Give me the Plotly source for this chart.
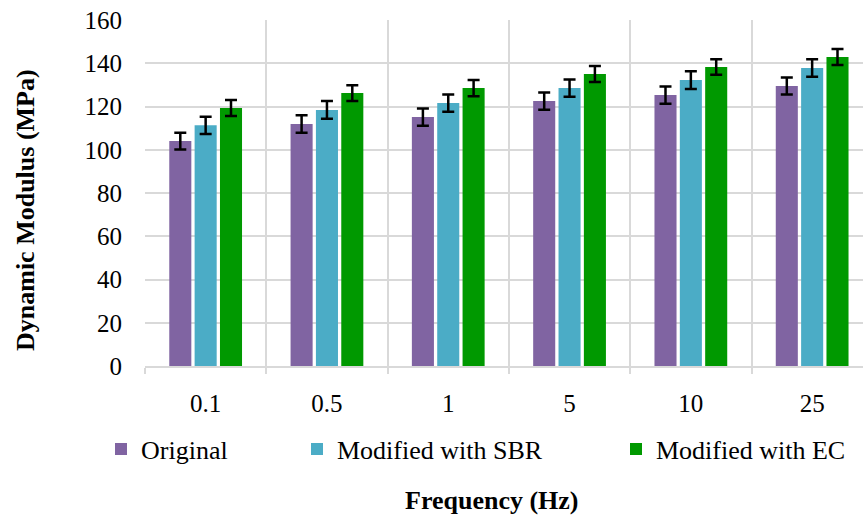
import plotly.graph_objects as go

categories = ["0.1", "0.5", "1", "5", "10", "25"]
original = [104.0, 111.9, 115.1, 122.5, 125.3, 129.5]
sbr = [111.3, 118.4, 121.6, 128.5, 132.2, 137.8]
ec = [119.3, 126.2, 128.5, 135.0, 138.3, 142.9]
err_original = [3.9, 4.0, 4.0, 4.0, 4.0, 3.9]
err_sbr = [4.0, 4.1, 4.0, 4.0, 4.1, 4.0]
err_ec = [3.7, 3.6, 3.8, 3.7, 3.6, 3.7]
y_ticks = [0, 20, 40, 60, 80, 100, 120, 140, 160]

FONT = "Liberation Serif"
W, H = 863, 517
L, T, B, R = 145, 20, 151, 0
pw, ph = W - L - R, H - T - B

def px_x(x):
    return (x - L) / pw

def px_y(y):
    return (H - B - y) / ph

series = [
    ("Original", original, err_original, "#8064A2", "legend"),
    ("Modified with SBR", sbr, err_sbr, "#4BACC6", "legend2"),
    ("Modified with EC", ec, err_ec, "#009900", "legend3"),
]

fig = go.Figure()
for name, vals, errs, color, lg in series:
    fig.add_trace(go.Bar(
        x=categories, y=vals, name=name, marker_color=color,
        marker_line_width=0, legend=lg, showlegend=True,
        error_y=dict(type="data", array=errs, visible=True,
                     color="black", thickness=2.5, width=6),
    ))

cat_w = 121.3
x_end = (W - L) / cat_w - 0.5

leg_common = dict(yanchor="middle", xanchor="left", orientation="h",
                  font=dict(family=FONT, size=26), bgcolor="rgba(0,0,0,0)",
                  y=px_y(449), visible=True)

fig.update_layout(
    width=W, height=H,
    margin=dict(l=L, r=R, t=T, b=B, pad=0),
    paper_bgcolor="white", plot_bgcolor="white",
    showlegend=True,
    barmode="group", bargap=0.373, bargroupgap=0.13,
    font=dict(family=FONT, size=25, color="black"),
    xaxis=dict(
        type="category", range=[-0.5, x_end], tickson="boundaries",
        showgrid=True, gridcolor="#d9d9d9", gridwidth=1.5,
        ticks="outside", ticklen=6, tickcolor="#d9d9d9", tickwidth=1.5,
        showline=True, linecolor="#d9d9d9", linewidth=2,
        tickfont=dict(family=FONT, size=25), ticklabelstandoff=14,
        zeroline=False,
    ),
    yaxis=dict(
        range=[0, 160], tickvals=y_ticks, showgrid=True,
        gridcolor="#d9d9d9", gridwidth=1.5, zeroline=False,
        showline=False, ticks="", tickfont=dict(family=FONT, size=25),
        ticklabelstandoff=22,
    ),
    legend=dict(x=px_x(101), **leg_common),
    legend2=dict(x=px_x(297), **leg_common),
    legend3=dict(x=px_x(616), **leg_common),
    annotations=[
        dict(text="<b>Dynamic Modulus (MPa)</b>", xref="paper", yref="paper",
             x=px_x(25), y=px_y(210), xanchor="center", yanchor="middle",
             textangle=-90, showarrow=False, font=dict(family=FONT, size=26)),
        dict(text="<b>Frequency (Hz)</b>", xref="paper", yref="paper",
             x=px_x(492), y=px_y(500), xanchor="center", yanchor="middle",
             showarrow=False, font=dict(family=FONT, size=26)),
    ],
)

fig.write_html("out.html")
